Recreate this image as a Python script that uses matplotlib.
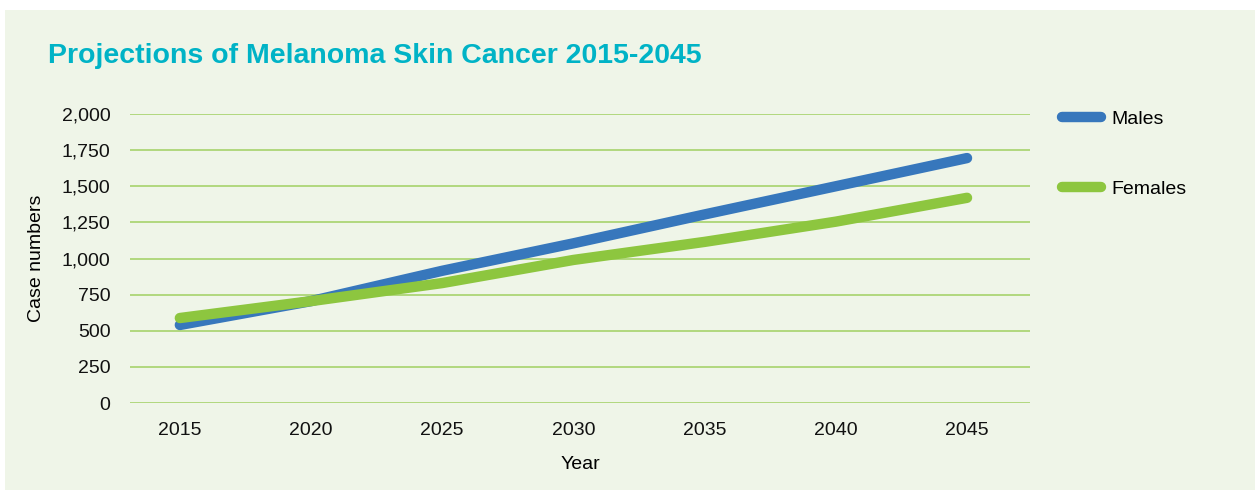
import matplotlib
matplotlib.use("Agg")
import matplotlib.pyplot as plt
from matplotlib.patches import Rectangle

years = [2015, 2020, 2025, 2030, 2035, 2040, 2045]
males = [540, 705, 915, 1105, 1305, 1500, 1695]
females = [588, 705, 830, 990, 1115, 1255, 1420]
yticks = [0, 250, 500, 750, 1000, 1250, 1500, 1750, 2000]

plt.rcParams["font.family"] = ["Liberation Sans", "DejaVu Sans"]

bg = "#eff5e8"
grid_col = "#8dc63f"
blue = "#3777bc"
green = "#8dc63f"

fig = plt.figure(figsize=(12.6, 4.93), dpi=100)
fig.patch.set_facecolor("white")
panel = Rectangle((5 / 1260, 3 / 493), 1250 / 1260, 480 / 493,
                  transform=fig.transFigure, facecolor=bg,
                  edgecolor="none", zorder=-10)
fig.patches.append(panel)

ax = fig.add_axes([130 / 1260, 1 - 403 / 493, 900 / 1260, 289 / 493])
ax.set_facecolor("none")
ax.set_zorder(1)

ax.plot(years, males, color=blue, lw=7.5, solid_capstyle="round", label="Males", zorder=3)
ax.plot(years, females, color=green, lw=7.5, solid_capstyle="round", label="Females", zorder=4)

ax.set_ylim(0, 2000)
ax.set_xlim(2013.1, 2047.4)
ax.set_yticks(yticks)
ax.set_yticklabels([f"{v:,}" for v in yticks])
ax.set_xticks(years)
ax.tick_params(length=0, labelsize=14, colors="#111111")
ax.tick_params(axis="y", pad=14)
ax.tick_params(axis="x", pad=14)
ax.grid(axis="y", color=grid_col, lw=1.1, alpha=0.8)
ax.set_axisbelow(True)
for s in ax.spines.values():
    s.set_visible(False)

ax.set_ylabel("Case numbers", fontsize=14, labelpad=12)
ax.set_xlabel("Year", fontsize=14, labelpad=12)

fig.text(48 / 1260, 1 - 56 / 493, "Projections of Melanoma Skin Cancer 2015-2045",
         color="#00b3c6", fontsize=20.5, fontweight="bold", va="center", ha="left")

leg = ax.legend(loc="upper left", bbox_to_anchor=(1.025, 1.047), frameon=False,
                fontsize=14, handlelength=2.0, handletextpad=0.55, labelspacing=2.7,
                borderpad=0)

fig.savefig("out.png", dpi=100, facecolor="white")
